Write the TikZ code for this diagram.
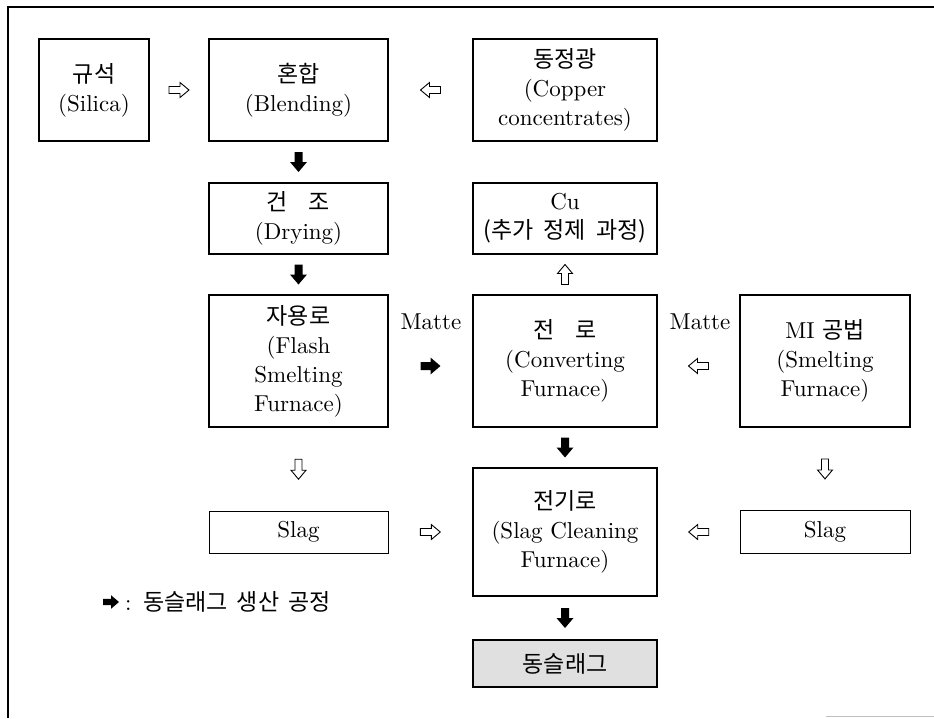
\documentclass[tikz,border=0pt]{standalone}
\usepackage{fontspec}
\setmainfont{lmroman10-regular.otf}
\newfontfamily\kr{Noto Sans CJK KR}
\usetikzlibrary{calc}
\begin{document}
\begin{tikzpicture}[x=1pt,y=-1pt,
  pbox/.style={draw=black, line width=1.8pt, align=center, inner sep=0pt,
    font=\fontsize{23}{29}\selectfont},
  thinbox/.style={pbox, line width=1pt},
  lbl/.style={inner sep=0pt, font=\fontsize{23}{29}\selectfont},
  hollowarrow/.pic={\draw[line width=0.9pt, fill=white, line join=miter]
     (-10,-3.5) -- (1,-3.5) -- (1,-7.5) -- (10,0) -- (1,7.5) -- (1,3.5) -- (-10,3.5) -- cycle;},
  solidarrow/.pic={\fill[black]
     (-10,-4) -- (0,-4) -- (0,-8.5) -- (10,0) -- (0,8.5) -- (0,4) -- (-10,4) -- cycle;}
]
\useasboundingbox (0,0) rectangle (934,718);
% frame
\draw[line width=1.5pt] (934,7) -- (8,7) -- (8,718);
\draw[black!25, line width=1pt] (826,716) -- (934,716);

% boxes
\node[pbox, minimum width=110, minimum height=102] (silica) at (94,90)
  {{\kr 규석}\\(Silica)};
\node[pbox, minimum width=179, minimum height=102] (blend) at (298.5,90)
  {{\kr 혼합}\\(Blending)};
\node[pbox, minimum width=184, minimum height=102] (conc) at (565,90)
  {{\kr 동정광}\\(Copper\\concentrates)};
\node[pbox, minimum width=179, minimum height=71] (dry) at (298.5,218.5)
  {{\kr 건\hspace{0.9em}조}\\(Drying)};
\node[pbox, minimum width=184, minimum height=71] (cu) at (565,218.5)
  {Cu\\{\kr (추가\hspace{0.45em}정제\hspace{0.45em}과정)}};
\node[pbox, minimum width=179, minimum height=132] (flash) at (298.5,361)
  {{\kr 자용로}\\(Flash\\Smelting\\Furnace)};
\node[pbox, minimum width=184, minimum height=132] (conv) at (565,361)
  {{\kr 전\hspace{0.9em}로}\\(Converting\\Furnace)};
\node[pbox, minimum width=170, minimum height=132] (mi) at (825,361)
  {MI {\kr 공법}\\(Smelting\\Furnace)};
\node[thinbox, minimum width=179, minimum height=42] (slagL) at (298.5,532) {Slag};
\node[pbox, minimum width=184, minimum height=128] (scf) at (565,532)
  {{\kr 전기로}\\(Slag Cleaning\\Furnace)};
\node[thinbox, minimum width=170, minimum height=43] (slagR) at (825,532) {Slag};
\node[pbox, fill=black!12, minimum width=184, minimum height=47] (cs) at (565,663.5)
  {{\kr 동슬래그}};

% labels
\node[lbl] (matteL) at (431,322) {Matte};
\node[lbl] (matteR) at (700,322) {Matte};

% arrows
\pic at ($(silica.east)!0.5!(blend.west)$) {hollowarrow};
\pic[rotate=180] at ($(blend.east)!0.5!(conc.west)$) {hollowarrow};
\pic[rotate=-90] at ($(blend.south)!0.5!(dry.north)$) {solidarrow};
\pic[rotate=-90] at ($(dry.south)!0.5!(flash.north)$) {solidarrow};
\pic[rotate=90] at ($(cu.south)!0.5!(conv.north)$) {hollowarrow};
\pic at ($($(flash.east)!0.5!(conv.west)$)+(0,5)$) {solidarrow};
\pic[rotate=180] at ($($(conv.east)!0.5!(mi.west)$)+(0,5)$) {hollowarrow};
\pic[rotate=-90] at ($(flash.south)!0.5!(slagL.north)$) {hollowarrow};
\pic[rotate=-90] at ($(conv.south)!0.5!(scf.north)$) {solidarrow};
\pic[rotate=-90] at ($(mi.south)!0.5!(slagR.north)$) {hollowarrow};
\pic at ($(slagL.east)!0.5!(scf.west)$) {hollowarrow};
\pic[rotate=180] at ($(scf.east)!0.5!(slagR.west)$) {hollowarrow};
\pic[rotate=-90] at ($(scf.south)!0.5!(cs.north)$) {solidarrow};

% legend
\pic[scale=0.8] at (111,602) {solidarrow};
\node[lbl, anchor=west] (legend) at (125,602) {:\hspace{0.5em}{\kr 동슬래그\hspace{0.4em}생산\hspace{0.4em}공정}};
\end{tikzpicture}
\end{document}
